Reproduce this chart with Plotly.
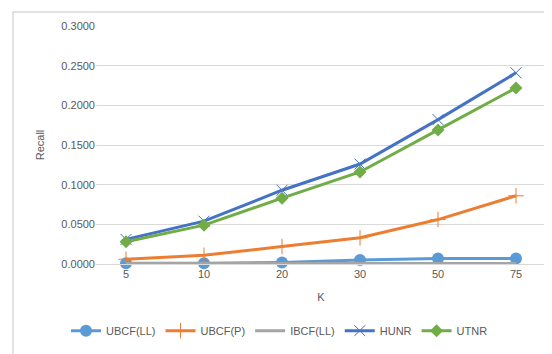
import plotly.graph_objects as go

k_values = ["5", "10", "20", "30", "50", "75"]
ubcf_ll = [0.001, 0.001, 0.002, 0.005, 0.007, 0.007]
ubcf_p = [0.006, 0.011, 0.022, 0.033, 0.056, 0.086]
ibcf_ll = [0.0005, 0.0005, 0.0005, 0.0005, 0.0005, 0.0005]
hunr = [0.031, 0.054, 0.093, 0.126, 0.182, 0.241]
utnr = [0.028, 0.049, 0.083, 0.116, 0.169, 0.222]

font = "Liberation Sans Narrow, Liberation Sans, Arial"
grey = "#595959"

fig = go.Figure()
fig.add_trace(go.Scatter(x=k_values, y=ubcf_ll, name="UBCF(LL)", mode="lines+markers",
                         cliponaxis=False,
                         line=dict(color="#5b9bd5", width=3),
                         marker=dict(symbol="circle", size=12, color="#5b9bd5")))
fig.add_trace(go.Scatter(x=k_values, y=ubcf_p, name="UBCF(P)", mode="lines+markers",
                         line=dict(color="#ed7d31", width=3),
                         marker=dict(symbol="cross-thin-open", size=11,
                                     line=dict(color="#ed7d31", width=1))))
fig.add_trace(go.Scatter(x=k_values, y=ibcf_ll, name="IBCF(LL)", mode="lines",
                         cliponaxis=False,
                         line=dict(color="#a5a5a5", width=3)))
fig.add_trace(go.Scatter(x=k_values, y=hunr, name="HUNR", mode="lines+markers",
                         line=dict(color="#4472c4", width=3),
                         marker=dict(symbol="x-thin-open", size=11,
                                     line=dict(color="#4472c4", width=1))))
fig.add_trace(go.Scatter(x=k_values, y=utnr, name="UTNR", mode="lines+markers",
                         line=dict(color="#70ad47", width=3),
                         marker=dict(symbol="diamond", size=10, color="#70ad47")))

fig.update_layout(
    width=552, height=354,
    margin=dict(l=88, r=14, t=16, b=98),
    paper_bgcolor="white", plot_bgcolor="white",
    font=dict(family=font, size=11, color=grey),
    legend=dict(orientation="h", x=-30 / 450, xanchor="left", y=-0.28, yanchor="middle",
                font=dict(size=11, color=grey), itemwidth=30, tracegroupgap=0),
    xaxis=dict(type="category", showgrid=False, showline=True, linecolor="#d9d9d9",
               ticks="", tickfont=dict(size=11, color=grey),
               title=dict(text="K", font=dict(size=11, color=grey), standoff=14)),
    yaxis=dict(range=[0, 0.3], dtick=0.05, tickformat=".4f", showgrid=True,
               gridcolor="#d9d9d9", zeroline=False, showline=False, ticks="",
               tickfont=dict(size=11, color=grey),
               title=dict(text="Recall", font=dict(size=11, color=grey), standoff=14)),
    shapes=[dict(type="rect", xref="paper", yref="paper",
                 x0=-83 / 450, x1=461 / 450, y0=-95 / 240, y1=254 / 240,
                 line=dict(color="#d9d9d9", width=1.5))],
)

fig.write_html("out.html")
